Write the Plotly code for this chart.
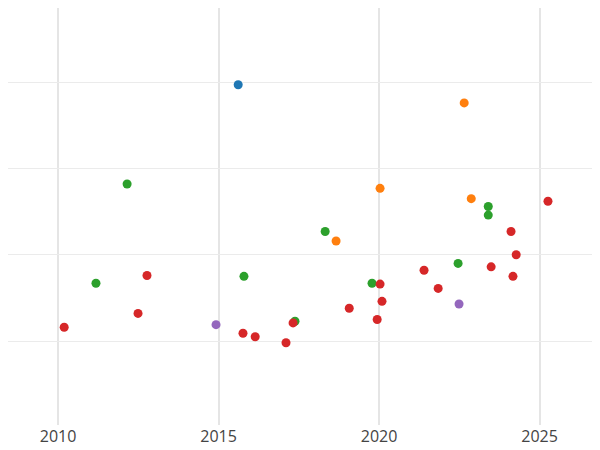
import plotly.graph_objects as go

blue_x = [2015.61]; blue_y = [3.97]
orange_x = [2022.65, 2020.03, 2022.87, 2018.66]
orange_y = [3.76, 2.77, 2.65, 2.16]
green_x = [2012.15, 2018.32, 2023.40, 2023.40, 2011.18, 2015.79, 2019.78, 2022.46, 2017.38]
green_y = [2.82, 2.27, 2.56, 2.46, 1.67, 1.75, 1.67, 1.90, 1.23]
red_x = [2025.26, 2024.11, 2024.27, 2012.77, 2023.49, 2024.17, 2021.40, 2020.03, 2021.84,
         2020.09, 2019.07, 2012.49, 2019.94, 2010.19, 2017.32, 2015.76, 2016.14, 2017.10]
red_y = [2.62, 2.27, 2.00, 1.76, 1.86, 1.75, 1.82, 1.66, 1.61,
         1.46, 1.38, 1.32, 1.25, 1.16, 1.21, 1.09, 1.05, 0.98]
purple_x = [2022.49, 2014.92]; purple_y = [1.43, 1.19]

fig = go.Figure()
for xs, ys, c in [(blue_x, blue_y, "#1f77b4"), (orange_x, orange_y, "#ff7f0e"),
                  (green_x, green_y, "#2ca02c"), (red_x, red_y, "#d62728"),
                  (purple_x, purple_y, "#9467bd")]:
    fig.add_trace(go.Scatter(x=xs, y=ys, mode="markers", marker=dict(color=c, size=9)))

fig.update_layout(template="plotly_white", width=600, height=450, showlegend=False,
                  margin=dict(l=0, r=0, t=0, b=33),
                  font=dict(family="Open Sans", size=16, color="#444"))
fig.update_xaxes(range=[2008.44, 2027.13], tickvals=[2010, 2015, 2020, 2025],
                 showline=False, zeroline=False, gridcolor="#e5e5e5", gridwidth=2)
fig.update_yaxes(range=[0.027, 4.86], tickvals=[1, 2, 3, 4], showticklabels=False,
                 zeroline=False, gridcolor="#ebebeb")
fig.write_html("out.html")
